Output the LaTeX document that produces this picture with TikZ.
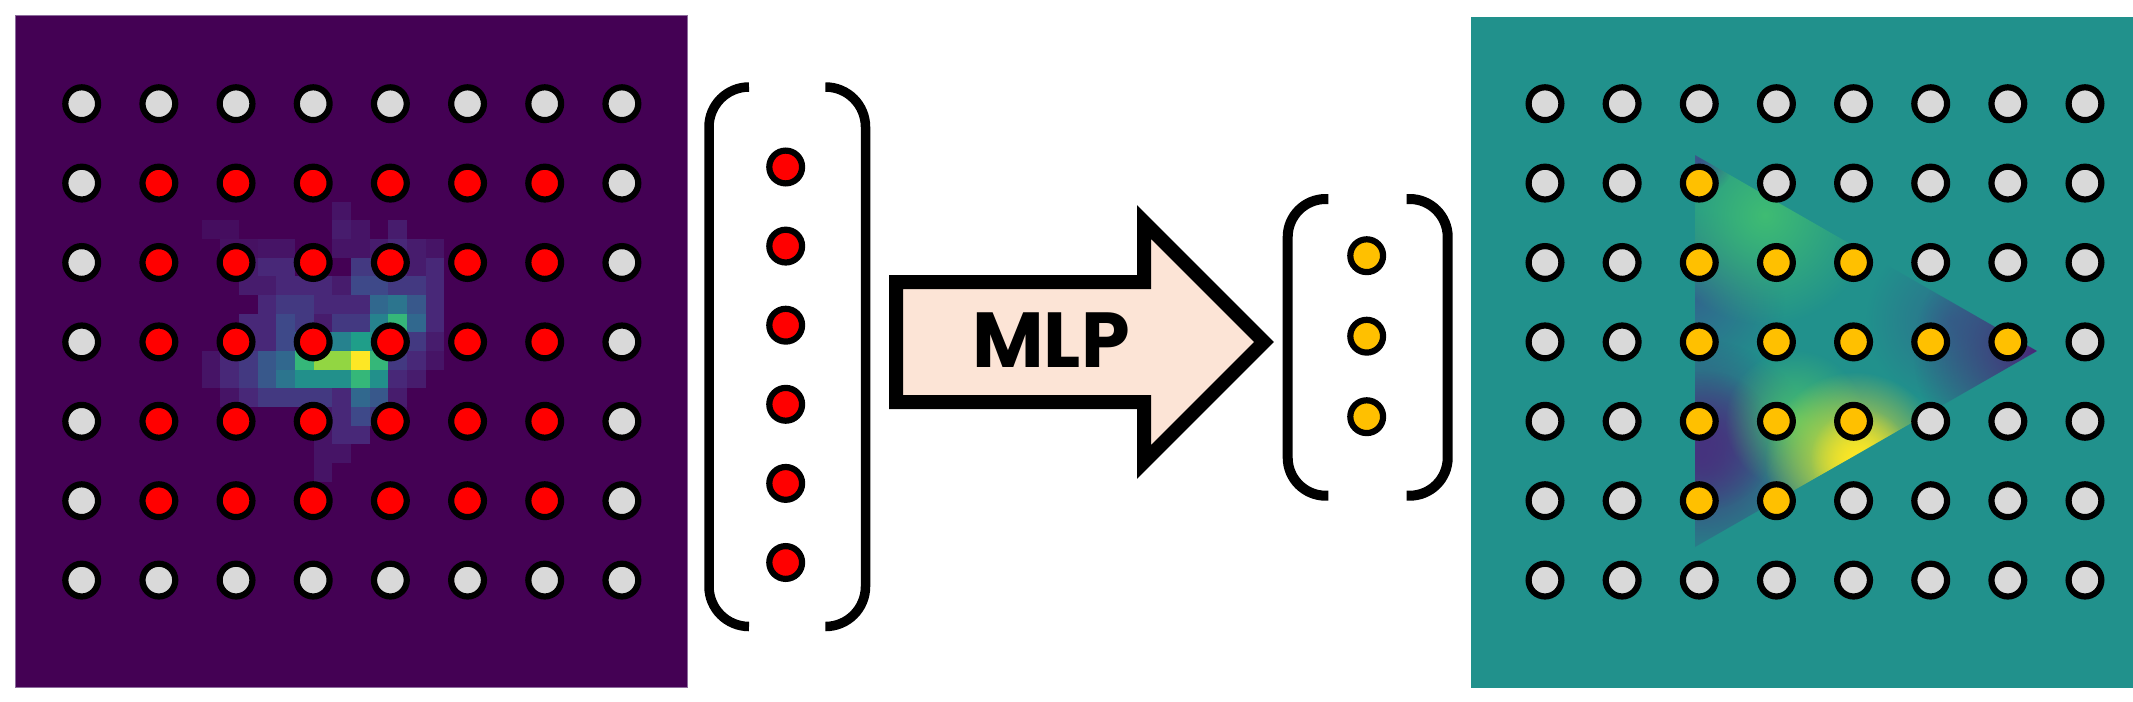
\documentclass[tikz,border=0pt]{standalone}
\usepackage{fontspec}
\newfontfamily\popp{Poppins}
\usetikzlibrary{fadings}
\definecolor{v0}{HTML}{440154}
\definecolor{v1}{HTML}{482878}
\definecolor{v2}{HTML}{3E4989}
\definecolor{v3}{HTML}{31688E}
\definecolor{v4}{HTML}{26828E}
\definecolor{v5}{HTML}{1F9E89}
\definecolor{v6}{HTML}{35B779}
\definecolor{v7}{HTML}{6ECE58}
\definecolor{v8}{HTML}{B5DE2B}
\definecolor{v9}{HTML}{FDE725}
\definecolor{tealbg}{HTML}{21918C}
\definecolor{greyc}{HTML}{D9D9D9}
\definecolor{redc}{HTML}{FF0000}
\definecolor{orangec}{HTML}{FFC000}
\definecolor{peach}{HTML}{FCE4D6}
\definecolor{panelline}{HTML}{8C6C9C}
\definecolor{bgreen}{HTML}{3FBC73}
\definecolor{bgreen2}{HTML}{4AC16D}
\definecolor{bblue}{HTML}{3B528B}
\definecolor{bteal}{HTML}{31688E}
\definecolor{bpurple}{HTML}{46337E}
\definecolor{bpurple2}{HTML}{482878}
\definecolor{byellow}{HTML}{FDE725}
\tikzfading[name=blob, inner color=transparent!0, outer color=transparent!100]
\tikzset{
  dot/.style={circle, draw=black, line width=3.1pt, inner sep=0pt, minimum size=16.4pt},
  bracketline/.style={draw=black, line width=4.75pt, rounded corners=20pt},
  bracketsmall/.style={draw=black, line width=5pt, rounded corners=19pt},
  mlparrow/.style={draw=black, line width=7pt, fill=peach, miter limit=10},
  heatcell/.style={line width=0pt},
}
\newcommand\hcell[3]{%
  \pgfmathtruncatemacro\hcLo{floor(#3)}%
  \pgfmathtruncatemacro\hcHi{min(\hcLo+1,9)}%
  \pgfmathtruncatemacro\hcPc{round(100*(#3-\hcLo))}%
  \fill[v\hcHi!\hcPc!v\hcLo] ({15+18.67*#1},{15+18.67*#2}) rectangle ++(18.75,18.75);%
}
\begin{document}
\begin{tikzpicture}[x=0.5pt,y=-0.5pt]
\useasboundingbox (0,0) rectangle (2133,702);
\fill[white] (0,0) rectangle (2133,702);

% ---------- left panel ----------
\fill[v0] (15,15) rectangle (687,687);
\foreach \hx/\hy/\hv in {
17/10/0.5,
10/11/0.3, 11/11/0.3, 17/11/0.7, 18/11/0.5, 20/11/0.7,
11/12/0.4, 12/12/0.4, 13/12/0.5, 14/12/0.5, 17/12/0.5, 18/12/0.5, 19/12/0.7, 20/12/1, 21/12/0.7, 22/12/0.5,
12/13/0.7, 13/13/1, 14/13/1, 18/13/1.5, 19/13/1.5, 20/13/1, 21/13/0.7, 22/13/1,
12/14/0.7, 13/14/0.7, 14/14/1, 15/14/1, 16/14/1, 17/14/0.7, 18/14/2, 19/14/2, 20/14/1.5, 21/14/1.5, 22/14/1,
13/15/1, 14/15/1.5, 15/15/1.5, 16/15/1, 17/15/1, 18/15/1, 19/15/3, 20/15/3.5, 21/15/2.5, 22/15/1,
12/16/1, 13/16/1, 14/16/2, 15/16/1.5, 16/16/0.7, 17/16/1.5, 18/16/1.5, 19/16/4, 20/16/6, 21/16/3, 22/16/1,
11/17/0.5, 12/17/1, 13/17/1, 14/17/2, 15/17/3, 16/17/3.5, 17/17/4, 18/17/5, 19/17/4.5, 20/17/3, 21/17/1.5, 22/17/0.7,
10/18/0.5, 11/18/1, 12/18/1.5, 13/18/2.5, 14/18/3, 15/18/6, 16/18/7.5, 17/18/7.5, 18/18/9, 19/18/6, 20/18/1.5, 21/18/1, 22/18/0.5,
10/19/0.5, 11/19/1, 12/19/1.5, 13/19/2.5, 14/19/3.5, 15/19/4.5, 16/19/4.5, 17/19/4.5, 18/19/6, 19/19/4.5, 20/19/1, 21/19/0.7,
11/20/0.5, 12/20/1, 13/20/1.5, 14/20/1.5, 15/20/1.5, 16/20/1.5, 17/20/1, 18/20/3, 19/20/2.5, 20/20/0.7,
16/21/0.7, 17/21/1, 18/21/2, 19/21/1.5, 20/21/0.5,
16/22/0.5, 17/22/1, 18/22/1,
16/23/0.5, 17/23/0.5,
16/24/0.5}{\hcell{\hx}{\hy}{\hv}}
\draw[panelline, line width=0.5pt] (15,15) rectangle (687,687);
\foreach \i in {0,...,7}{
  \foreach \j in {0,...,6}{
    \pgfmathtruncatemacro\isin{(\i>0)&&(\i<7)&&(\j>0)&&(\j<6)}
    \ifnum\isin=1 \def\dcol{redc}\else\def\dcol{greyc}\fi
    \node[dot, fill=\dcol] (l-\i-\j) at ({81.7+77.17*\i},{103.7+79.4*\j}) {};
  }
}

% ---------- middle vector ----------
\draw[bracketline] (749,87) -- (709,87) -- (709,626.5) -- (749,626.5);
\draw[bracketline] (826,87) -- (865.5,87) -- (865.5,626.5) -- (826,626.5);
\foreach \k in {0,...,5}{
  \node[dot, fill=redc] (m-\k) at (785.7,{167+79.1*\k}) {};
}

% ---------- arrow ----------
\draw[mlparrow] (896,282) -- (1144,282) -- (1144,222) -- (1264,342) -- (1144,462) -- (1144,402) -- (896,402) -- cycle;
\node[font=\popp\bfseries\fontsize{39}{39}\selectfont, inner sep=0pt] (mlp) at (1051,340) {MLP};

% ---------- output vector ----------
\draw[bracketsmall] (1328.3,199) -- (1287.7,199) -- (1287.7,495.7) -- (1328.3,495.7);
\draw[bracketsmall] (1406.7,199) -- (1447.7,199) -- (1447.7,495.7) -- (1406.7,495.7);
\foreach \k in {0,1,2}{
  \node[dot, fill=orangec] (o-\k) at (1366.7,{255.7+80.5*\k}) {};
}

% ---------- right panel ----------
\fill[tealbg] (1471,17) rectangle (2133,688);
\begin{scope}
  \clip (1695,155) -- (2037,351) -- (1695,547) -- cycle;
  \fill[bteal, path fading=blob] (1695,300) circle[radius=45pt];
  \fill[bgreen, path fading=blob] (1765,215) circle[radius=55pt];
  \fill[bblue, path fading=blob] (1698,160) circle[radius=18pt];
  \fill[bpurple, path fading=blob] (1700,455) circle[radius=58pt];
  \fill[bpurple, path fading=blob] (1705,440) circle[radius=35pt];
  \fill[bteal, path fading=blob, fill opacity=0.8] (1950,320) circle[radius=42pt];
  \fill[bpurple2, path fading=blob] (2037,351) circle[radius=62pt];
  \fill[bgreen2, path fading=blob] (1795,420) circle[radius=35pt];
  \fill[byellow, path fading=blob] (1855,462) circle[radius=45pt];
  \fill[byellow, path fading=blob] (1860,458) circle[radius=25pt];
\end{scope}
\foreach \j/\m in {0/1,1/2,2/4,3/6,4/4,5/3,6/1}{
  \foreach \i in {0,...,7}{
    \pgfmathtruncatemacro\isor{(\i>1)&&(\i<=\m)}
    \ifnum\isor=1 \def\dcol{orangec}\else\def\dcol{greyc}\fi
    \node[dot, fill=\dcol] (r-\i-\j) at ({1545+77.14*\i},{103.7+79.4*\j}) {};
  }
}
\end{tikzpicture}
\end{document}
